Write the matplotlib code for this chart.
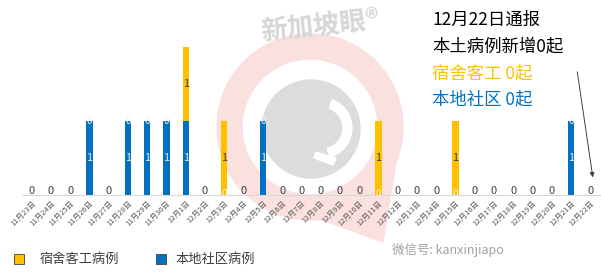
import matplotlib
matplotlib.use('Agg')
import matplotlib.pyplot as plt
from matplotlib.patches import Circle, Wedge, Polygon
import numpy as np

plt.rcParams['font.family'] = ['Noto Sans CJK SC', 'DejaVu Sans']

# data
dates = ['11月23日', '11月24日', '11月25日', '11月26日', '11月27日', '11月28日',
         '11月29日', '11月30日', '12月1日', '12月2日', '12月3日', '12月4日',
         '12月5日', '12月6日', '12月7日', '12月8日', '12月9日', '12月10日',
         '12月11日', '12月12日', '12月13日', '12月14日', '12月15日', '12月16日',
         '12月17日', '12月18日', '12月19日', '12月20日', '12月21日', '12月22日']
local = [0, 0, 0, 1, 0, 1, 1, 1, 1, 0, 0, 0, 1, 0, 0, 0, 0, 0,
         0, 0, 0, 0, 0, 0, 0, 0, 0, 0, 1, 0]
dorm = [0, 0, 0, 0, 0, 0, 0, 0, 1, 0, 1, 0, 0, 0, 0, 0, 0, 0,
        1, 0, 0, 0, 1, 0, 0, 0, 0, 0, 0, 0]

blue = '#0070C0'
orange = '#FFC000'

W, H = 601, 276
fig = plt.figure(figsize=(W / 100, H / 100), dpi=100)
fig.patch.set_facecolor('white')

# watermark (faint logo), pixel coords
wm = fig.add_axes([0, 0, 1, 1], zorder=0)
wm.set_xlim(0, W)
wm.set_ylim(H, 0)
wm.axis('off')
pink = '#fbe0e0'
wm.add_patch(Polygon([(398, 150), (383, 242), (300, 212)], closed=True, color=pink))
wm.add_patch(Circle((310, 127), 68, color='white'))
wm.add_patch(Wedge((310, 127), 93, 0, 360, width=25, color=pink))
wm.add_patch(Circle((311, 129), 49, color='#dcdcdc'))
wm.add_patch(Wedge((322, 128), 30, -70, 75, width=9, color='white'))
wm.add_patch(Polygon([(316, 152), (336, 158), (333, 165), (314, 158)],
                     closed=True, color='white'))
wm.text(320, 27, '新加坡眼®', fontsize=19, color='#d6d6d6', rotation=6,
        ha='center', va='center', fontweight='bold')

ax = fig.add_axes([22 / W, (H - 195) / H, 578 / W, 163 / H], zorder=1)
ax.patch.set_alpha(0)
x = np.arange(len(dates))
local = np.array(local)
dorm = np.array(dorm)
ax.bar(x, local, width=0.32, color=blue)
ax.bar(x, dorm, width=0.32, bottom=local, color=orange)

ax.set_xlim(-0.5, len(dates) - 0.5)
ax.set_ylim(0, 2.2)
for s in ['top', 'right', 'left']:
    ax.spines[s].set_visible(False)
ax.spines['bottom'].set_color('#d9d9d9')
ax.set_yticks([])
ax.set_xticks(x)
ax.set_xticklabels(dates, rotation=45, ha='right', rotation_mode='anchor',
                   fontsize=5.5, color='#595959')
ax.tick_params(axis='x', length=0, pad=3)

# value labels
for i in x:
    l, d = local[i], dorm[i]
    if l + d == 0:
        ax.text(i, 0.05, '0', ha='center', va='center', fontsize=8, color='#404040')
        continue
    if l > 0:
        ax.text(i, l / 2, str(l), ha='center', va='center', fontsize=8, color='#e8e8e8')
    else:
        ax.text(i, 0.02, '0', ha='center', va='center', fontsize=7, color='#f2f2f2')
    if d > 0:
        ax.text(i, l + d / 2, str(d), ha='center', va='center', fontsize=8, color='#404040')
    else:
        ax.text(i, l, '0', ha='center', va='center', fontsize=7, color='#f2f2f2')

# headline text
fig.text(432 / W, 1 - 20 / H, '12月22日通报', fontsize=12.5, color='black', va='center')
fig.text(432 / W, 1 - 46 / H, '本土病例新增0起', fontsize=12.5, color='black', va='center')
fig.text(432 / W, 1 - 73 / H, '宿舍客工 0起', fontsize=12.5, color=orange, va='center')
fig.text(432 / W, 1 - 99 / H, '本地社区 0起', fontsize=12.5, color=blue, va='center')
ax.annotate('', xy=(29.15, 0.2), xytext=(len(dates) - 1.7, 1.7),
            arrowprops=dict(arrowstyle='-|>', color='#404040', lw=0.7,
                            mutation_scale=7))

# legend
fig.patches.append(plt.Rectangle((14 / W, 1 - 264 / H), 10 / W, 10 / H,
                                 transform=fig.transFigure, facecolor=orange,
                                 edgecolor='#404040', lw=0.6))
fig.text(40 / W, 1 - 259 / H, '宿舍客工病例', fontsize=9.5, color='#404040', va='center')
fig.patches.append(plt.Rectangle((156 / W, 1 - 264 / H), 10 / W, 10 / H,
                                 transform=fig.transFigure, facecolor=blue,
                                 edgecolor='#404040', lw=0.6))
fig.text(176 / W, 1 - 259 / H, '本地社区病例', fontsize=9.5, color='#404040', va='center')

fig.text(392 / W, 1 - 250 / H, '微信号: kanxinjiapo', fontsize=9, color='#a0a0a0',
         va='center')

fig.savefig('out.png', dpi=100, facecolor='white')
